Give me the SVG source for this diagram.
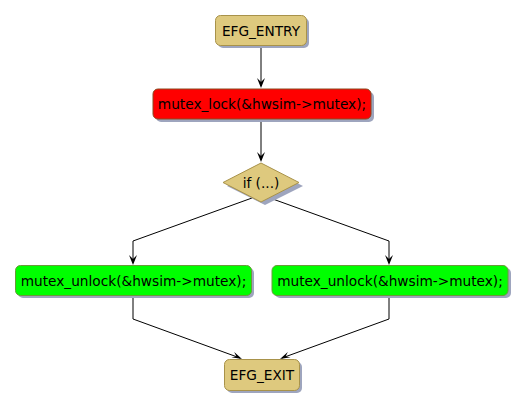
<svg xmlns="http://www.w3.org/2000/svg" width="525" height="408" viewBox="0 0 525 408">
<style>
.t{font-family:"DejaVu Sans",sans-serif;font-size:13.7px;fill:#000;text-anchor:middle}
.sh{fill:#9EA5BE}
.y{fill:#DEC97E;stroke:#A8924A;stroke-width:1}
.r{fill:#FF0000;stroke:#8A4A20;stroke-width:1}
.g{fill:#00FF00;stroke:#6A9A3A;stroke-width:1}
.c{fill:none;stroke:#000;stroke-width:1}
</style>
<rect width="525" height="408" fill="#fff"/>
<g id="connectors">
<path class="c" d="M261,45 V86"/>
<path class="c" d="M261,119 V160"/>
<path class="c" d="M252,198 L133,241 V263"/>
<path class="c" d="M270,198 L389,241 V263"/>
<path class="c" d="M133,295 V319 L240,358"/>
<path class="c" d="M389,295 V319 L282,358"/>
<g id="arrowheads" fill="#000">
<path d="M261,88 L257,78 L261,82 L265,78 Z"/>
<path d="M261,162 L257,152 L261,156 L265,152 Z"/>
<path d="M133,265 L129,255 L133,259 L137,255 Z"/>
<path d="M389,265 L385,255 L389,259 L393,255 Z"/>
<path d="M242,359 L231.4,357.2 L236.4,356.4 L234.2,351.9 Z"/>
<path d="M280,359 L287.8,351.9 L285.6,356.4 L290.6,357.2 Z"/>
</g>
</g>
<g id="entry">
<rect class="sh" x="218" y="18" width="91" height="30" rx="5"/>
<rect class="y" x="215.5" y="15.5" width="91" height="30" rx="5"/>
<text class="t" x="261" y="35.5">EFG_ENTRY</text>
</g>
<g id="lock">
<rect class="sh" x="156" y="92" width="218" height="30" rx="5"/>
<rect class="r" x="153" y="89" width="218" height="30" rx="5"/>
<text class="t" x="262" y="109">mutex_lock(&amp;hwsim-&gt;mutex);</text>
</g>
<g id="if">
<polygon class="sh" points="265,167 303,186 265,205 227,186"/>
<polygon class="y" points="261,163 299,182.5 261,202 223,182.5"/>
<text class="t" x="261" y="187.5">if (...)</text>
</g>
<g id="unlock1">
<rect class="sh" x="18" y="268" width="236" height="30" rx="5"/>
<rect class="g" x="15.5" y="265.5" width="236" height="30" rx="5"/>
<text class="t" x="133.5" y="285.5">mutex_unlock(&amp;hwsim-&gt;mutex);</text>
</g>
<g id="unlock2">
<rect class="sh" x="275" y="268" width="236" height="30" rx="5"/>
<rect class="g" x="272" y="265.5" width="236" height="30" rx="5"/>
<text class="t" x="390" y="285.5">mutex_unlock(&amp;hwsim-&gt;mutex);</text>
</g>
<g id="exit">
<rect class="sh" x="227" y="362" width="75" height="31" rx="5"/>
<rect class="y" x="224.5" y="359.5" width="75" height="31" rx="5"/>
<text class="t" x="262" y="380">EFG_EXIT</text>
</g>
</svg>
